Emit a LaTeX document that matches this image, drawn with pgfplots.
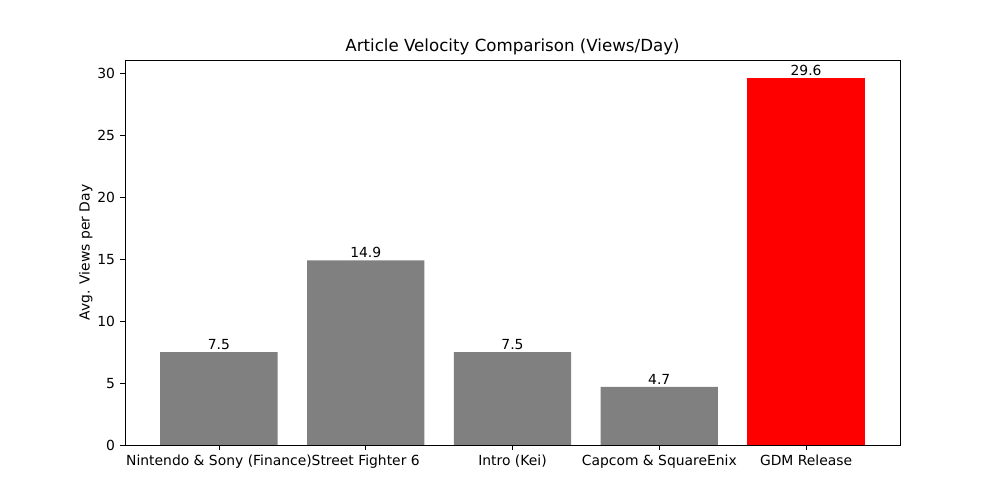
\documentclass[border=0pt]{standalone}
\usepackage{fontspec}
\setmainfont{DejaVu Sans}
\usepackage{pgfplots}
\pgfplotsset{compat=1.18}
\definecolor{bargray}{HTML}{808080}
\definecolor{barred}{HTML}{FF0000}
\begin{document}
\begin{tikzpicture}
\path[use as bounding box] (0,0) rectangle (720bp,360bp);
\begin{axis}[
  at={(90bp,39.6bp)}, anchor=south west,
  scale only axis, width=558bp, height=277.2bp,
  xmin=-0.64, xmax=4.64, ymin=0, ymax=31.08,
  ybar, bar width=0.8, bar shift=0pt,
  xtick={0,1,2,3,4},
  xticklabels={Nintendo \& Sony (Finance), Street Fighter 6, Intro (Kei), Capcom \& SquareEnix, GDM Release},
  ytick={0,5,10,15,20,25,30},
  tick pos=left, tick align=outside, major tick length=3.5bp,
  every tick/.style={black, line width=0.6bp},
  axis line style={line width=0.6bp},
  font=\fontsize{10bp}{12bp}\selectfont,
  /pgf/number format/assume math mode=true,
  ticklabel style={font=\fontsize{10bp}{12bp}\selectfont},
  xticklabel style={inner sep=0pt, yshift=-3.5bp, anchor=north},
  yticklabel style={inner sep=0pt, xshift=-3.5bp, anchor=east},
  ylabel={Avg. Views per Day},
  ylabel style={font=\fontsize{10bp}{12bp}\selectfont},
  title={Article Velocity Comparison (Views/Day)},
  title style={font=\fontsize{12bp}{14bp}\selectfont, yshift=-6bp},
  nodes near coords,
  nodes near coords style={font=\fontsize{10bp}{12bp}\selectfont, inner sep=1.5bp, anchor=south, black},
  every node near coord/.append style={/pgf/number format/.cd, fixed, fixed zerofill, precision=1, assume math mode=true},
  axis on top,
]
\addplot[fill=bargray, draw=none] coordinates {(0,7.5) (1,14.9) (2,7.5) (3,4.7)};
\addplot[fill=barred, draw=none] coordinates {(4,29.6)};
\end{axis}
\end{tikzpicture}
\end{document}
